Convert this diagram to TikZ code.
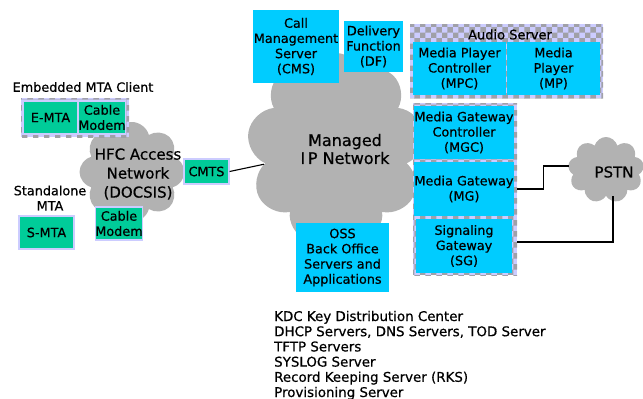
\documentclass[tikz,border=0pt]{standalone}
\usepackage{fontspec}
\setmainfont{DejaVu Sans}[UprightFeatures={FakeBold=0.6}]
\usetikzlibrary{shapes.symbols,patterns,calc}

\definecolor{boxcyan}{HTML}{00CCFF}
\definecolor{boxgreen}{HTML}{00CC99}
\definecolor{cloudgray}{HTML}{B2B2B2}
\definecolor{lav}{HTML}{CCCCFF}
\definecolor{chkgray}{HTML}{A0A0A8}

\tikzset{
  txt/.style={inner sep=0pt, align=center, text=black, font=\fontsize{12.8}{15.2}\selectfont},
  box/.style={txt, rectangle},
  cyanbox/.style={box, fill=boxcyan},
  greenbox/.style={box, fill=boxgreen, draw=lav, line width=1.2pt},
  netcloud/.style={cloud, cloud ignores aspect, fill=cloudgray, inner sep=0pt},
  grp/.style={rectangle, inner sep=0pt, fill=lav, postaction={pattern=checkerboard, pattern color=chkgray}},
  link/.style={draw=black, line width=1.1pt}
}

\begin{document}
\begin{tikzpicture}[x=1pt,y=-1pt]
\useasboundingbox (0,0) rectangle (643,399);

% networks
\node[netcloud, cloud puffs=9, minimum width=178pt, minimum height=192pt] (ipnet) at (336,149) {};
\node[netcloud, cloud puffs=8, minimum width=105pt, minimum height=100pt] (hfc) at (132,172) {};
\node[netcloud, cloud puffs=9, minimum width=76pt, minimum height=66pt] (pstn) at (606,170) {};

\node[txt, font=\fontsize{16}{18}\selectfont] (iplabel) at (345,149) {Managed\\ I\,P Network};
\node[txt, font=\fontsize{15}{19}\selectfont] (hfclabel) at (138,174) {HFC Access\\ Network\\ (DOCSIS)};
\node[txt, font=\fontsize{15}{18}\selectfont] (pstnlabel) at (614,172) {PSTN};

% client side
\node[txt] (emblabel) at (83,87) {Embedded MTA Client};
\node[grp, minimum width=108pt, minimum height=39pt] (embgrp) at (75,117.5) {};
\node[greenbox, minimum width=55pt, minimum height=33pt] (emta) at (50.5,117.5) {E-MTA};
\node[greenbox, minimum width=46pt, minimum height=33pt] (cm1) at (102,117.5) {Cable\\ Modem};

\node[txt] (salabel) at (50,198) {Standalone\\ MTA};
\node[greenbox, minimum width=55pt, minimum height=33pt] (smta) at (46.5,232.5) {S-MTA};
\node[greenbox, minimum width=46pt, minimum height=33pt] (cm2) at (119,223.5) {Cable\\ Modem};
\node[greenbox, minimum width=45pt, minimum height=25pt] (cmts) at (206.5,171.5) {CMTS};

% managed network servers
\node[cyanbox, minimum width=86pt, minimum height=73pt] (cms) at (296,46.5) {Call\\ Management\\ Server\\ (CMS)};
\node[cyanbox, minimum width=59pt, minimum height=51pt] (df) at (373.5,46.5) {Delivery\\ Function\\ (DF)};

\node[grp, minimum width=193pt, minimum height=74pt] (audiogrp) at (506.5,61) {};
\node[txt, font=\fontsize{13}{15}\selectfont] (audiolabel) at (510,34.5) {Audio Server};
\node[cyanbox, minimum width=93pt, minimum height=53pt] (mpc) at (459.5,68.5) {Media Player\\ Controller\\ (MPC)};
\node[cyanbox, minimum width=93pt, minimum height=53pt] (mp) at (553.5,68.5) {Media\\ Player\\ (MP)};

\node[grp, minimum width=104pt, minimum height=172pt] (gwgrp) at (465,189) {};
\node[cyanbox, minimum width=96pt, minimum height=53pt] (mgc) at (464,132.5) {Media Gateway\\ Controller\\ (MGC)};
\node[cyanbox, minimum width=96pt, minimum height=54pt] (mg) at (464,189) {Media Gateway\\ (MG)};
\node[cyanbox, minimum width=96pt, minimum height=54pt] (sg) at (464,246) {Signaling\\ Gateway\\ (SG)};

\node[cyanbox, minimum width=93pt, minimum height=69pt] (oss) at (342.5,257.5) {OSS\\ Back Office\\ Servers and\\ Applications};

\node[txt, anchor=base west, align=left, font=\fontsize{13.4}{15.2}\selectfont] (osslist) at (274,397)
  {KDC Key Distribution Center\\
   DHCP Servers, DNS Servers, TOD Server\\
   TFTP Servers\\
   SYSLOG Server\\
   Record Keeping Server (RKS)\\
   Provisioning Server};

% connections
\draw[link] (cmts.east) -- (ipnet);
\draw[link] (mg.east -| gwgrp.east) -- ++(26,0) |- ($(pstn.west)+(0,-4)$);
\draw[link] ($(sg.east -| gwgrp.east)+(0,-4)$) -| ($(pstn.south)+(7,0)$);
\end{tikzpicture}
\end{document}
